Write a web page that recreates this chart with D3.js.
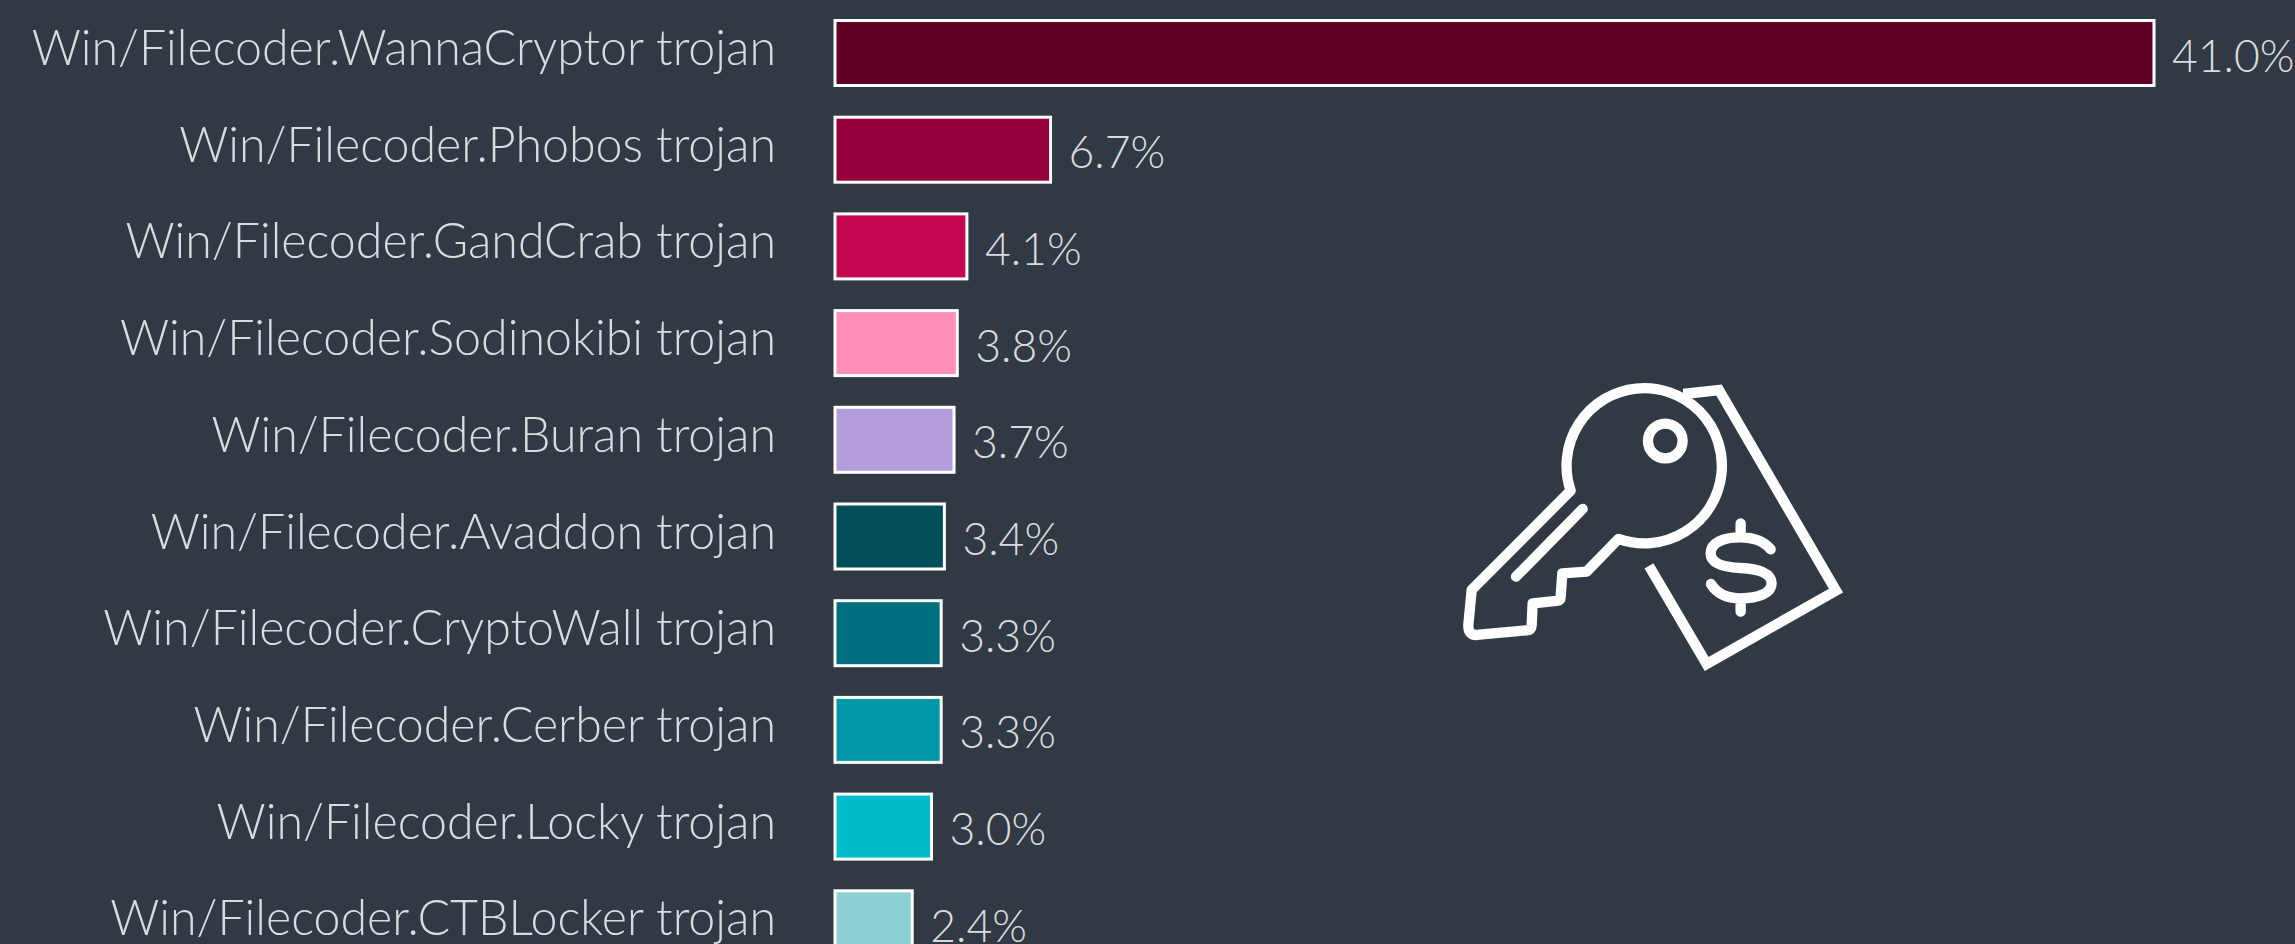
<!DOCTYPE html>
<html>

<head>
    <meta charset="utf-8">
    <style type="text/css">
        body {
            margin: 0;
            background: #313944;
            overflow: hidden;
        }

        text {
            font-family: Lato, sans-serif;
            font-weight: 300;
            font-size: 48.3px;
            fill: #d9dcde;
        }

        text.val {
            font-size: 44.5px;
        }

        .icon * {
            fill: none;
            stroke: #fff;
            stroke-width: 31;
        }
    </style>
    <title>Ransomware families</title>
    <script src="https://cdn.jsdelivr.net/npm/d3@7"></script>
</head>

<body>
    <div id="cont"></div>
    <script>
        var categories = ["Win/Filecoder.WannaCryptor trojan", "Win/Filecoder.Phobos trojan", "Win/Filecoder.GandCrab trojan",
            "Win/Filecoder.Sodinokibi trojan", "Win/Filecoder.Buran trojan", "Win/Filecoder.Avaddon trojan",
            "Win/Filecoder.CryptoWall trojan", "Win/Filecoder.Cerber trojan", "Win/Filecoder.Locky trojan",
            "Win/Filecoder.CTBLocker trojan"];
        var values = [41.0, 6.7, 4.1, 3.8, 3.7, 3.4, 3.3, 3.3, 3.0, 2.4];
        var colors = ["#600026", "#95003a", "#c40550", "#ff8eb8", "#b39ddb", "#004d5a", "#006f80", "#0097a7", "#00bcca", "#8ccfd5"];

        var width = 2295, height = 944;

        var svg = d3.select("#cont").append("svg")
            .attr("width", width)
            .attr("height", height);

        var x = d3.scaleLinear().domain([0, 41]).range([835, 2154]);
        var y = d3.scaleBand().domain(categories).range([4.65, 971.65]).paddingInner(0.328).paddingOuter(0.164);

        // category labels
        var axis = svg.append("g")
            .attr("transform", "translate(" + x(0) + ",0)")
            .call(d3.axisLeft(y).tickSize(0).tickPadding(59));
        axis.select(".domain").remove();
        axis.selectAll("text").attr("dy", "12px");
        axis.attr("font-family", null).attr("font-size", null);

        svg.selectAll(".bar")
            .data(values)
            .enter().append("rect")
            .attr("class", "bar")
            .attr("x", x(0))
            .attr("y", function (d, i) { return y(categories[i]); })
            .attr("width", function (d) { return x(d) - x(0); })
            .attr("height", y.bandwidth())
            .attr("fill", function (d, i) { return colors[i]; })
            .attr("stroke", "#fff")
            .attr("stroke-width", 3);

        svg.selectAll(".val")
            .data(values)
            .enter().append("text")
            .attr("class", "val")
            .attr("x", function (d) { return x(d) + 18; })
            .attr("y", function (d, i) { return y(categories[i]) + y.bandwidth() / 2 + 18.5; })
            .text(function (d) { return d.toFixed(1) + "%"; });

        // key and price tag icon, traced in 3x coordinates
        var icon = svg.append("g")
            .attr("class", "icon")
            .attr("transform", "translate(1430,360) scale(0.3333)");
        icon.append("path")
            .attr("stroke-linejoin", "round")
            .attr("d", "M565 537A233 233 0 1 0 422 392L125 690L115 795Q114 826 140 825L290 811Q304 810 305 796L308 730L380 723Q392 722 392 710L397 640L470 635Z");
        icon.append("circle").attr("cx", 706).attr("cy", 243).attr("r", 52);
        icon.append("path").attr("stroke-linecap", "round").attr("d", "M258 650L458 447");
        icon.append("path").attr("d", "M760 102L867 90L1218 692L830 912L657 618");
        icon.append("path").attr("stroke-linecap", "round")
            .attr("d", "M1022 568C1000 540 960 532 930 532C880 532 842 548 842 580C842 612 880 622 932 624C985 626 1025 640 1025 670C1025 700 985 715 932 715C890 715 860 700 843 672M932 490V525M932 722V755");
    </script>
</body>

</html>
